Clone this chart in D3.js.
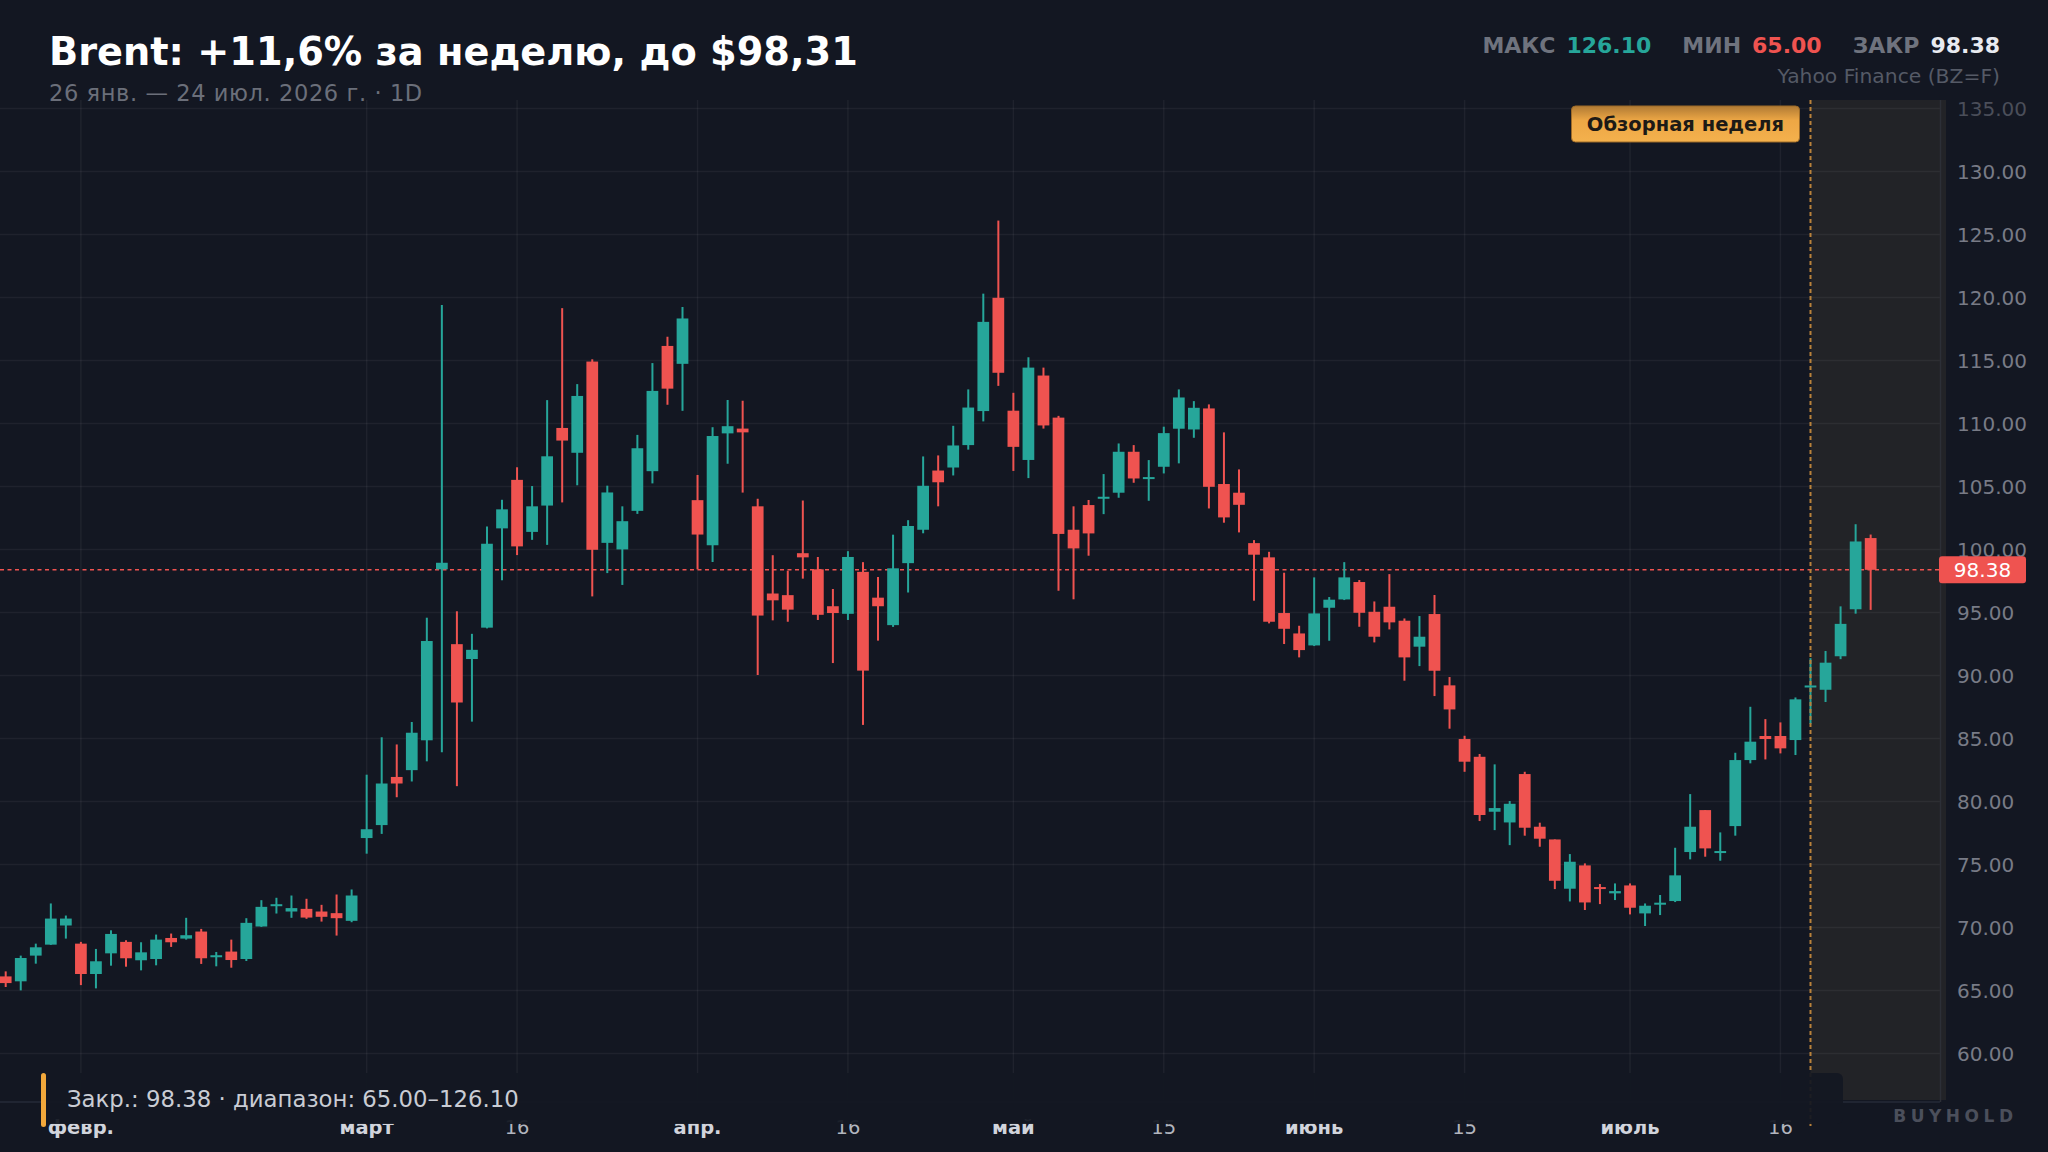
<!DOCTYPE html>
<html><head><meta charset="utf-8">
<script src="https://cdn.jsdelivr.net/npm/d3@7"></script>
<style>
html,body{margin:0;padding:0;background:#131722;}
svg{display:block;font-family:"DejaVu Sans",sans-serif;}
</style>
</head><body>
<svg id="c" width="2048" height="1152"></svg>
<script>
// ---------- DATA ----------
const dates = [
"2026-01-26","2026-01-27","2026-01-28","2026-01-29","2026-01-30",
"2026-02-02","2026-02-03","2026-02-04","2026-02-05","2026-02-06",
"2026-02-09","2026-02-10","2026-02-11","2026-02-12","2026-02-13",
"2026-02-17","2026-02-18","2026-02-19","2026-02-20",
"2026-02-23","2026-02-24","2026-02-25","2026-02-26","2026-02-27",
"2026-03-02","2026-03-03","2026-03-04","2026-03-05","2026-03-06",
"2026-03-09","2026-03-10","2026-03-11","2026-03-12","2026-03-13",
"2026-03-16","2026-03-17","2026-03-18","2026-03-19","2026-03-20",
"2026-03-23","2026-03-24","2026-03-25","2026-03-26","2026-03-27",
"2026-03-30","2026-03-31","2026-04-01","2026-04-02",
"2026-04-06","2026-04-07","2026-04-08","2026-04-09","2026-04-10",
"2026-04-13","2026-04-14","2026-04-15","2026-04-16","2026-04-17",
"2026-04-20","2026-04-21","2026-04-22","2026-04-23","2026-04-24",
"2026-04-27","2026-04-28","2026-04-29","2026-04-30","2026-05-01",
"2026-05-04","2026-05-05","2026-05-06","2026-05-07","2026-05-08",
"2026-05-11","2026-05-12","2026-05-13","2026-05-14","2026-05-15",
"2026-05-18","2026-05-19","2026-05-20","2026-05-21","2026-05-22",
"2026-05-26","2026-05-27","2026-05-28","2026-05-29",
"2026-06-01","2026-06-02","2026-06-03","2026-06-04","2026-06-05",
"2026-06-08","2026-06-09","2026-06-10","2026-06-11","2026-06-12",
"2026-06-15","2026-06-16","2026-06-17","2026-06-18",
"2026-06-22","2026-06-23","2026-06-24","2026-06-25","2026-06-26",
"2026-06-29","2026-06-30","2026-07-01","2026-07-02",
"2026-07-06","2026-07-07","2026-07-08","2026-07-09","2026-07-10",
"2026-07-13","2026-07-14","2026-07-15","2026-07-16","2026-07-17",
"2026-07-20","2026-07-21","2026-07-22","2026-07-23","2026-07-24"
];
const open = [66.11,65.72,67.76,68.63,70.15,68.71,66.30,67.94,68.85,67.39,
67.49,69.16,69.11,69.67,67.63,68.08,67.49,70.07,71.71,71.26,
71.47,71.26,71.13,70.52,77.09,78.12,81.94,82.48,84.85,98.42,
92.48,91.30,93.79,101.67,105.52,101.39,103.48,109.64,107.67,114.91,
100.52,100.00,103.06,106.21,116.15,114.73,103.91,100.33,109.21,109.59,
103.42,96.50,96.37,99.70,98.42,95.49,94.89,98.22,96.17,93.99,
98.91,101.56,106.26,106.50,108.28,110.98,119.97,111.01,107.10,113.80,
110.46,101.56,103.52,104.02,104.50,107.75,105.61,106.56,109.58,109.52,
111.19,105.19,104.50,100.50,99.37,94.95,93.33,92.38,95.37,96.03,
97.41,95.05,95.45,94.34,92.28,94.87,89.21,84.95,83.54,79.18,
78.33,82.17,77.99,76.98,73.07,74.92,73.20,72.70,73.33,71.11,
71.83,72.09,75.98,79.31,75.90,78.04,83.28,85.19,85.19,84.87,
89.05,88.86,91.52,95.25,100.90];
const high = [66.51,67.76,68.71,71.90,70.94,68.85,68.29,69.77,68.98,68.82,
69.43,69.51,70.76,69.88,68.05,69.03,70.73,72.16,72.35,72.53,
72.27,71.79,72.61,73.01,82.12,85.09,84.52,86.30,94.58,119.39,
95.09,93.30,101.82,103.94,106.52,105.03,111.85,119.15,113.12,115.09,
105.06,103.42,109.09,114.79,116.88,119.24,105.91,109.70,111.86,111.80,
104.02,99.54,98.31,103.88,99.40,96.86,99.86,98.99,97.81,101.17,
102.32,107.38,107.46,109.81,112.70,120.30,126.10,112.43,115.25,114.43,
110.60,103.42,103.92,105.98,108.41,108.28,107.09,109.74,112.70,111.77,
111.51,109.29,106.35,100.74,99.81,98.15,93.94,97.78,96.22,98.99,
97.57,95.87,98.04,94.52,94.71,96.38,89.87,85.21,83.76,82.94,
80.03,82.35,78.31,76.98,75.82,75.08,73.44,73.49,73.49,71.90,
72.57,76.32,80.58,79.31,77.54,83.86,87.51,86.53,86.27,88.25,
91.37,91.94,95.48,102.00,101.18];
const low = [65.27,65.00,67.12,68.61,69.11,65.42,65.16,66.96,66.88,66.59,
66.99,68.45,69.03,67.10,66.91,66.80,67.33,70.04,71.10,70.76,
70.68,70.46,69.35,70.41,75.85,77.42,80.33,81.58,83.18,83.91,
81.21,86.33,93.73,97.55,99.55,100.76,100.36,103.73,105.09,96.27,
98.12,97.18,102.82,105.24,111.48,111.00,98.42,99.00,106.80,104.51,
90.03,94.37,94.26,97.68,94.40,90.98,94.40,86.07,92.76,93.85,
96.58,101.28,103.42,105.87,107.92,110.16,112.98,106.23,105.66,109.59,
96.72,96.04,99.50,102.80,104.10,105.29,103.86,106.03,106.83,108.86,
103.25,102.12,101.35,95.93,94.13,92.49,91.43,92.33,92.75,95.98,
93.86,92.62,93.65,89.58,90.74,88.36,85.77,82.35,78.44,77.72,
76.53,77.28,76.40,73.04,72.06,71.38,71.85,72.17,71.03,70.11,
70.98,72.01,75.40,75.61,75.29,77.28,83.02,83.33,83.81,83.68,
86.15,87.89,91.29,94.90,95.20];
const close = [65.58,67.57,68.42,70.70,70.70,66.30,67.31,69.48,67.55,68.02,
69.03,68.82,69.38,67.55,67.79,67.41,70.36,71.63,71.84,71.53,
70.78,70.84,70.73,72.53,77.79,81.42,81.42,85.45,92.73,98.94,
87.85,92.03,100.45,103.18,100.24,103.42,107.39,108.64,112.18,99.97,
104.52,102.24,108.03,112.58,112.76,118.33,101.18,109.00,109.78,109.29,
94.75,95.96,95.22,99.37,94.81,94.95,99.40,90.38,95.49,98.50,
101.86,105.05,105.33,108.25,111.26,118.06,114.02,108.14,114.43,109.84,
101.23,100.08,101.27,104.18,107.75,105.63,105.74,109.23,112.06,111.24,
104.97,102.54,103.54,99.58,94.26,93.70,92.01,94.92,96.01,97.78,
94.97,93.07,94.21,91.43,93.07,90.37,87.30,83.15,78.92,79.47,
79.81,77.91,77.04,73.70,75.21,71.98,73.07,72.88,71.56,71.72,
71.96,74.13,77.99,76.27,76.06,83.28,84.74,84.95,84.21,88.10,
89.20,91.01,94.09,100.63,98.38];

const xTickDates  = ["2026-02-02","2026-03-02","2026-03-16","2026-04-01","2026-04-16","2026-05-01","2026-05-15","2026-06-01","2026-06-15","2026-07-01","2026-07-16"];
const xTickLabels = ["февр.","март","16","апр.","16","май","15","июнь","15","июль","16"];
const xTickIsMonth = [true,true,false,true,false,true,false,true,false,true,false];
const yTicks = [60,65,70,75,80,85,90,95,100,105,110,115,120,125,130,135];
const reviewStart = "2026-07-20";
const statMax = 126.10, statMin = 65.00, statLast = 98.38;

const titleText = "Brent: +11,6% за неделю, до $98,31";
const subtitleText = "26 янв. — 24 июл. 2026 г. · 1D";
const sourceText = "Yahoo Finance (BZ=F)";
const badgeText = "Обзорная неделя";
const noteText = "Закр.: 98.38 · диапазон: 65.00–126.10";

// ---------- LAYOUT ----------
const W = 2048, H = 1152;
const plot = {left: 0, right: 1940, top: 100, bottom: 1100};
const UP = "#26a69a", DOWN = "#ef5350";

const svg = d3.select("#c");
const candles = dates.map((d, i) => ({date: d, o: open[i], h: high[i], l: low[i], c: close[i]}));

const step = 15.04;
const x = d3.scaleBand().domain(dates)
  .range([5.7 - step / 2, 5.7 - step / 2 + dates.length * step])
  .paddingInner(0.22).paddingOuter(0.11);
const cx = d => x(d) + x.bandwidth() / 2;
const y = d3.scaleLinear().domain([56.3, 135.67]).range([plot.bottom, plot.top]);

svg.append("rect").attr("width", W).attr("height", H).attr("fill", "#131722");

const defs = svg.append("defs");
defs.append("clipPath").attr("id", "plotClip").append("rect")
  .attr("x", plot.left).attr("y", plot.top)
  .attr("width", plot.right - plot.left).attr("height", plot.bottom - plot.top);
const grad = defs.append("linearGradient").attr("id", "badgeGrad")
  .attr("x1", 0).attr("y1", 0).attr("x2", 0).attr("y2", 1);
grad.append("stop").attr("offset", "0%").attr("stop-color", "#b07a34");
grad.append("stop").attr("offset", "40%").attr("stop-color", "#eda745");
grad.append("stop").attr("offset", "100%").attr("stop-color", "#f4b14d");

// review-week shading
const rx0 = cx(reviewStart);
svg.append("rect").attr("x", rx0).attr("y", plot.top)
  .attr("width", plot.right + 6 - rx0).attr("height", plot.bottom - plot.top)
  .attr("fill", "#222327");

// grid
const grid = svg.append("g").attr("stroke", "rgba(255,255,255,0.05)").attr("stroke-width", 1.5);
grid.selectAll("line.h").data(yTicks).join("line").attr("class", "h")
  .attr("x1", plot.left).attr("x2", plot.right)
  .attr("y1", d => y(d)).attr("y2", d => y(d));
grid.selectAll("line.v").data(xTickDates).join("line").attr("class", "v")
  .attr("x1", d => cx(d)).attr("x2", d => cx(d))
  .attr("y1", plot.top).attr("y2", plot.bottom);

// borders
svg.append("line").attr("x1", plot.right + 0.5).attr("x2", plot.right + 0.5)
  .attr("y1", plot.top).attr("y2", plot.bottom + 2).attr("stroke", "#2c2f37").attr("stroke-width", 1.5);
svg.append("line").attr("x1", plot.left).attr("x2", plot.right)
  .attr("y1", plot.bottom + 2).attr("y2", plot.bottom + 2).attr("stroke", "#262b38").attr("stroke-width", 1.5);

// last price dashed line
svg.append("line").attr("x1", plot.left).attr("x2", plot.right)
  .attr("y1", y(statLast)).attr("y2", y(statLast))
  .attr("stroke", DOWN).attr("stroke-width", 1.5).attr("stroke-dasharray", "4,3.5");

// candles
const cg = svg.append("g").attr("clip-path", "url(#plotClip)");
cg.selectAll("line.wick").data(candles).join("line").attr("class", "wick")
  .attr("x1", d => cx(d.date)).attr("x2", d => cx(d.date))
  .attr("y1", d => y(d.h)).attr("y2", d => y(d.l))
  .attr("stroke", d => d.c >= d.o ? UP : DOWN).attr("stroke-width", 2);
cg.selectAll("rect.body").data(candles).join("rect").attr("class", "body")
  .attr("x", d => x(d.date)).attr("width", x.bandwidth())
  .attr("y", d => y(Math.max(d.o, d.c)))
  .attr("height", d => Math.max(2, Math.abs(y(d.o) - y(d.c))))
  .attr("fill", d => d.c >= d.o ? UP : DOWN);

// review start dashed line
svg.append("line").attr("x1", rx0).attr("x2", rx0)
  .attr("y1", plot.top).attr("y2", plot.bottom + 26)
  .attr("stroke", "#b9823a").attr("stroke-width", 2).attr("stroke-dasharray", "4,3");

// badge
const bw = 228, bh = 36;
svg.append("rect").attr("x", rx0 - 11 - bw).attr("y", 106).attr("width", bw).attr("height", bh)
  .attr("rx", 4).attr("fill", "url(#badgeGrad)").attr("stroke", "#9c6a28").attr("stroke-width", 1);
svg.append("text").attr("x", rx0 - 11 - bw / 2).attr("y", 131)
  .attr("text-anchor", "middle").attr("font-size", 19.5).attr("font-weight", "bold")
  .attr("fill", "#1d1a16").text(badgeText);

// right axis labels
svg.append("g").selectAll("text").data(yTicks).join("text")
  .attr("x", 1957).attr("y", d => y(d)).attr("dy", "0.36em")
  .attr("font-size", 20).attr("fill", "#787b86")
  .attr("opacity", (d, i) => i === yTicks.length - 1 ? 0.55 : 1)
  .text(d => d3.format(".2f")(d));

// price tag
svg.append("rect").attr("x", plot.right - 1).attr("y", y(statLast) - 13.5)
  .attr("width", 87).attr("height", 27).attr("rx", 3).attr("fill", DOWN);
svg.append("text").attr("x", plot.right + 42.5).attr("y", y(statLast)).attr("dy", "0.36em")
  .attr("text-anchor", "middle").attr("font-size", 20).attr("fill", "#ffffff")
  .text(d3.format(".2f")(statLast));

// x axis labels
svg.append("g").selectAll("text").data(xTickDates).join("text")
  .attr("x", d => cx(d)).attr("y", 1134).attr("text-anchor", "middle")
  .attr("font-size", 19.5)
  .attr("font-weight", (d, i) => xTickIsMonth[i] ? "bold" : "normal")
  .attr("fill", (d, i) => xTickIsMonth[i] ? "#d1d4dc" : "#b2b5be")
  .text((d, i) => xTickLabels[i]);

// annotation box
svg.append("rect").attr("x", 41).attr("y", 1073).attr("width", 1802).attr("height", 51)
  .attr("rx", 6).attr("fill", "#131722").attr("fill-opacity", 0.94);
svg.append("rect").attr("x", 41).attr("y", 1073).attr("width", 5).attr("height", 54)
  .attr("rx", 2.5).attr("fill", "#f2a83b");
svg.append("text").attr("x", 67).attr("y", 1107).attr("font-size", 22.8)
  .attr("fill", "#c9ccd4").text(noteText);

// title + subtitle
svg.append("text").attr("x", 49).attr("y", 65).attr("font-size", 38.3).attr("font-weight", "bold")
  .attr("fill", "#ffffff").text(titleText);
svg.append("text").attr("x", 49).attr("y", 101).attr("font-size", 22.5).attr("letter-spacing", 0.6)
  .attr("fill", "#6b6f7a").text(subtitleText);

// stats
const st = svg.append("text").attr("x", 2000).attr("y", 53).attr("text-anchor", "end")
  .attr("font-size", 22).attr("font-weight", "bold");
st.append("tspan").attr("fill", "#6f737e").text("МАКС");
st.append("tspan").attr("dx", 11).attr("fill", UP).text(d3.format(".2f")(statMax));
st.append("tspan").attr("dx", 31).attr("fill", "#6f737e").text("МИН");
st.append("tspan").attr("dx", 11).attr("fill", DOWN).text(d3.format(".2f")(statMin));
st.append("tspan").attr("dx", 31).attr("fill", "#6f737e").text("ЗАКР");
st.append("tspan").attr("dx", 11).attr("fill", "#e8eaf0").text(d3.format(".2f")(statLast));

svg.append("text").attr("x", 2000).attr("y", 83).attr("text-anchor", "end")
  .attr("font-size", 20.3).attr("fill", "#555a66").text(sourceText);

// watermark
svg.append("text").attr("x", 2013 + 4.5).attr("y", 1122).attr("text-anchor", "end")
  .attr("font-size", 17).attr("font-weight", "bold").attr("letter-spacing", 4.5)
  .attr("fill", "#4b4f5b").text("BUYHOLD");
</script>
</body></html>
